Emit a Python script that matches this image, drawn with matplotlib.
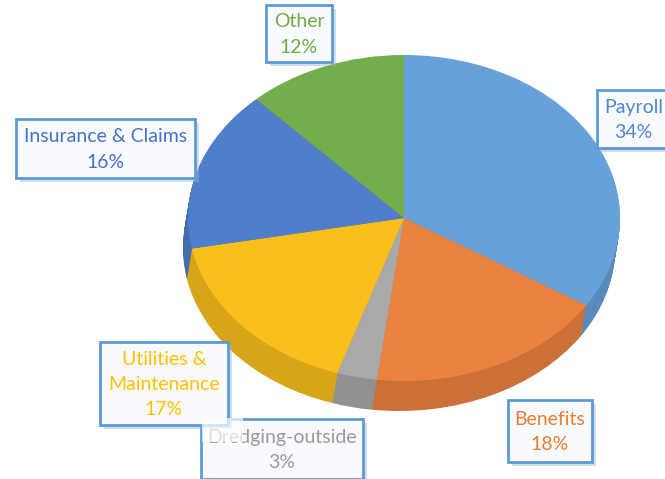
import matplotlib.pyplot as plt
import matplotlib.patches as mpatches
import matplotlib.patheffects as pe
import numpy as np

# data
categories = ["Payroll", "Benefits", "Dredging-outside", "Utilities &\nMaintenance",
              "Insurance & Claims", "Other"]
shares = [34, 18, 3, 17, 16, 12]
top_colors = ["#68A0D9", "#EC8240", "#A9A9A9", "#FBBF1C", "#4F7ECB", "#72AE4B"]
text_colors = ["#4F86D0", "#ED7D31", "#9A9A9A", "#FFC000", "#4472C4", "#70AD47"]

W, H = 665, 479
fig = plt.figure(figsize=(W / 100, H / 100), dpi=100)
ax = fig.add_axes([0, 0, 1, 1])

# ellipse of the top face in pixels
cx, cy, rx, ry = 404, 218, 216, 163
depth_px, shift_px = 30, -5

def darker(c, f=0.86):
    r, g, b = plt.matplotlib.colors.to_rgb(c)
    return (r * f, g * f, b * f)

side_colors = [darker(c) for c in top_colors]

# side of the pie: stacked pies going down
n_layers = 30
for k in range(n_layers, 0, -1):
    off_y = -depth_px * k / n_layers / ry
    off_x = shift_px * k / n_layers / rx
    ax.pie(shares, colors=side_colors, startangle=90, counterclock=False,
           radius=1, center=(off_x, off_y), wedgeprops=dict(linewidth=0),
           frame=True)

# top face
ax.pie(shares, colors=top_colors, startangle=90, counterclock=False,
       radius=1, center=(0, 0), wedgeprops=dict(linewidth=0), frame=True)

ax.set_aspect("auto")
ax.set_xlim(-cx / rx, (W - cx) / rx)
ax.set_ylim((cy - H) / ry, cy / ry)
ax.axis("off")

# label boxes (pixel bounds)
boxes = [(597, 90, 670, 148), (508, 400, 592, 462), (201, 419, 363, 479),
         (100, 342, 228, 425), (16, 119, 195, 178), (266, 5, 332, 62)]

def fx(x):
    return x / W

def fy(y):
    return 1 - y / H

shadow = [pe.SimplePatchShadow(offset=(3, -3), shadow_rgbFace="#9fb3cc", alpha=0.45),
          pe.Normal()]

for i, (name, val) in enumerate(zip(categories, shares)):
    x0, y0, x1, y1 = boxes[i]
    rect = mpatches.Rectangle((fx(x0), fy(y1)), fx(x1) - fx(x0), fy(y0) - fy(y1),
                              transform=fig.transFigure, facecolor="#F8FAFD",
                              edgecolor="#5B9BD5", linewidth=2, zorder=5 + i)
    rect.set_path_effects(shadow)
    fig.patches.append(rect)
    fig.text(fx((x0 + x1) / 2), fy((y0 + y1) / 2 + 1), f"{name}\n{val}%",
             ha="center", va="center", color=text_colors[i], fontsize=14,
             family="Lato", linespacing=1.6, zorder=5 + i)

# faded patch over the start of "Dredging"
fade = mpatches.Rectangle((fx(202), fy(442)), fx(243) - fx(202), fy(418) - fy(442),
                          transform=fig.transFigure, facecolor="white",
                          edgecolor="none", alpha=0.7, zorder=20)
fig.patches.append(fade)

plt.savefig("out.png", dpi=100)
